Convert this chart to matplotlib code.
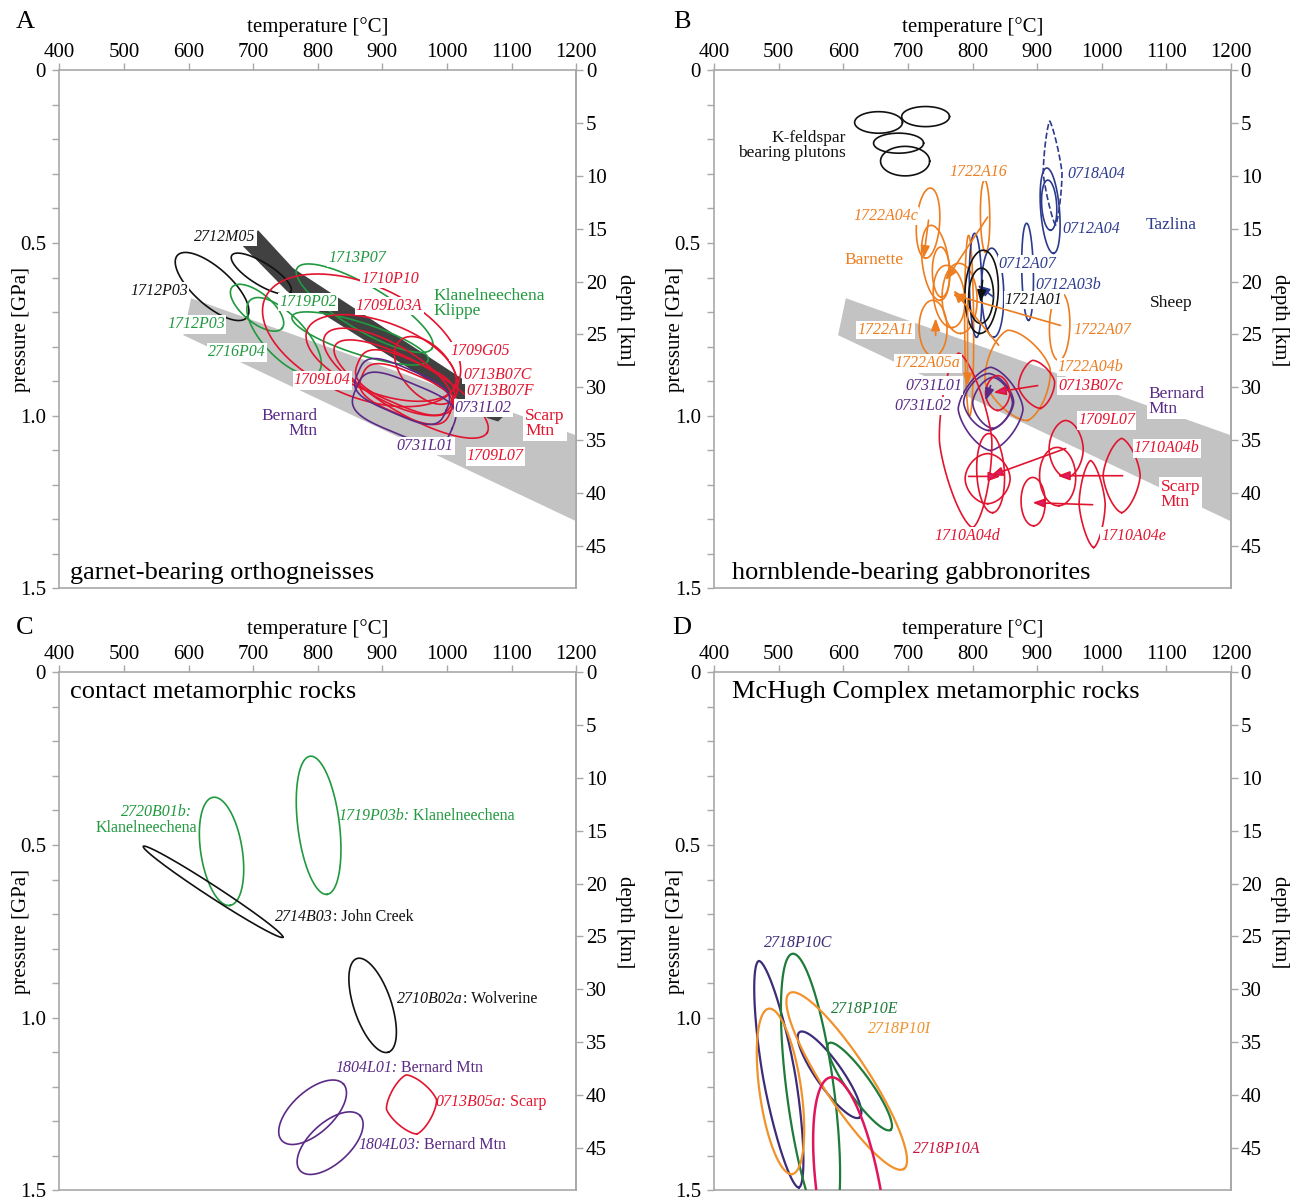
import numpy as np
import matplotlib
matplotlib.use('Agg')
import matplotlib.pyplot as plt
from matplotlib.ticker import MultipleLocator

plt.rcParams['font.family'] = ['Liberation Serif', 'DejaVu Serif']

# ---------------- axes / ticks ----------------
T_TICKS = [400, 500, 600, 700, 800, 900, 1000, 1100, 1200]
P_TICKS = [0, 0.5, 1.0, 1.5]
P_TICK_LABELS = ['0', '0.5', '1.0', '1.5']
DEPTH_TICKS = [0, 5, 10, 15, 20, 25, 30, 35, 40, 45]
KM_PER_GPA = 32.7

# ---------------- colours ----------------
GRAY = '#a8a8a8'
BAND_LIGHT = '#c3c3c3'
BAND_DARK = '#414141'
BLACK = '#111111'
GREEN = '#21993f'
RED = '#e2142f'
PURPLE = '#5b2a86'
ORANGE = '#ee7d1f'
BLUE = '#2d3b8e'
MAGENTA = '#dc1c6e'
D_INDIGO = '#3e2c79'
D_GREEN = '#1e7b3a'
D_ORANGE = '#f1922b'
D_CRIMSON = '#e0155c'

# ---------------- shared bands (T degC, P GPa) ----------------
BAND_LIGHT_T = [604, 1200, 1200, 592]
BAND_LIGHT_P = [0.660, 1.057, 1.306, 0.767]
BAND_DARK_T = [707.6, 761.8, 1051.2, 1082.2, 1091.5, 1079.1, 1063.6, 752.5, 682.4]
BAND_DARK_P = [0.463, 0.573, 0.927, 0.968, 0.994, 1.017, 1.008, 0.640, 0.506]

# contour = (T1, P1, T2, P2, width ratio, squareness exponent)
# ---------------- Panel A ----------------
A_BLACK = [(582.7, 0.536, 690.1, 0.716, 0.40, 2),
           (666.9, 0.536, 758.2, 0.642, 0.32, 2)]
A_GREEN = [(667.3, 0.628, 744.7, 0.747, 0.45, 2),
           (695.2, 0.666, 800.5, 0.875, 0.42, 2),
           (768.0, 0.573, 976.9, 0.805, 0.28, 2),
           (760.2, 0.713, 970.7, 0.840, 0.22, 2)]
A_RED = [(718.4, 0.660, 1017.2, 0.904, 0.53, 2),
         (783.4, 0.753, 1012.5, 0.913, 0.45, 2),
         (811.3, 0.768, 1007.9, 0.979, 0.38, 2),
         (927.4, 0.782, 1007.9, 0.956, 0.60, 2),
         (862.4, 0.846, 1007.9, 0.962, 0.45, 3),
         (868.6, 0.884, 1004.8, 0.991, 0.45, 3),
         (826.8, 0.797, 1062.1, 1.049, 0.30, 2)]
A_PURPLE = [(862.4, 0.875, 998.6, 0.985, 0.48, 3.5),
            (859.3, 0.921, 1007.9, 1.037, 0.50, 3.5)]
A_LABELS = [("2712M05", 656.5, 0.483, BLACK, True, True, 'center'),
            ("1712P03", 554.3, 0.640, BLACK, True, True, 'center'),
            ("1713P07", 860.8, 0.544, GREEN, True, True, 'center'),
            ("1710P10", 912.0, 0.605, RED, True, True, 'center'),
            ("1719P02", 785.0, 0.672, GREEN, True, True, 'center'),
            ("1709L03A", 910.4, 0.683, RED, True, True, 'center'),
            ("1712P03", 611.6, 0.736, GREEN, True, True, 'center'),
            ("2716P04", 675.1, 0.817, GREEN, True, True, 'center'),
            ("1709G05", 1051.2, 0.814, RED, True, True, 'center'),
            ("0713B07C", 1077.6, 0.881, RED, True, True, 'center'),
            ("0713B07F", 1082.2, 0.930, RED, True, True, 'center'),
            ("1709L04", 806.7, 0.898, RED, True, True, 'center'),
            ("0731L02", 1055.9, 0.979, PURPLE, True, True, 'center'),
            ("0731L01", 966.1, 1.089, PURPLE, True, True, 'center'),
            ("1709L07", 1074.5, 1.118, RED, True, True, 'center')]
A_REGIONS = [("Klanelneechena\nKlippe", 978.5, 0.675, GREEN, False, 'left'),
             ("Scarp\nMtn", 1120.9, 1.023, RED, True, 'left'),
             ("Bernard\nMtn", 798.9, 1.023, PURPLE, False, 'right')]

# ---------------- Panel B ----------------
B_KSPAR = [(617.6, 0.151, 691.6, 0.151, 0.45, 2),
           (690.4, 0.134, 764.4, 0.134, 0.42, 2),
           (646.9, 0.211, 724.3, 0.211, 0.40, 2),
           (657.7, 0.263, 733.7, 0.263, 0.60, 2)]
B_ORANGE = [(735.1, 0.341, 727.4, 0.544, 0.33, 2),
            (735.1, 0.449, 750.6, 0.666, 0.35, 2),
            (818.7, 0.318, 820.3, 0.527, 0.13, 2),
            (750.6, 0.512, 752.2, 0.657, 0.35, 2),
            (758.4, 0.565, 769.2, 0.745, 0.50, 2),
            (778.5, 0.559, 781.6, 0.762, 0.50, 2),
            (738.2, 0.666, 739.8, 0.828, 0.50, 2),
            (794.0, 0.478, 795.6, 1.000, 0.05, 2),
            (936.4, 0.643, 933.3, 0.840, 0.30, 2),
            (854.3, 0.753, 885.3, 1.014, 0.72, 1.5)]
B_ORANGE_ARROWS = [(732.0, 0.434, 724.3, 0.544),
                   (823.4, 0.425, 758.4, 0.608),
                   (742.9, 0.768, 742.9, 0.718),
                   (792.4, 0.666, 792.4, 0.913),
                   (936.4, 0.739, 769.2, 0.649),
                   (840.4, 0.796, 770.7, 0.637)]
B_BLUE = [(914.7, 0.283, 925.5, 0.530, 0.22, 2),
          (916.3, 0.318, 921.0, 0.463, 0.30, 2),
          (883.7, 0.443, 886.8, 0.724, 0.12, 2),
          (803.3, 0.472, 806.3, 0.773, 0.12, 2),
          (829.6, 0.515, 832.7, 0.773, 0.25, 2)]
B_BLUE_DASHED = [(919.4, 0.147, 928.6, 0.449, 0.18, 1.3)]
B_BLUE_ARROWS = [(832.7, 0.657, 807.9, 0.622)]
B_BLACK = [(817.2, 0.521, 811.0, 0.762, 0.40, 2),
           (814.1, 0.573, 812.5, 0.733, 0.45, 2)]
B_BLACK_ARROWS = [(815.6, 0.608, 812.5, 0.672)]
B_PURPLE = [(828.0, 0.860, 828.0, 1.101, 0.78, 1.5),
            (825.0, 0.878, 825.0, 1.043, 0.88, 1.6),
            (831.1, 0.889, 831.1, 1.037, 0.78, 1.6)]
B_PURPLE_ARROWS = [(828.0, 0.913, 820.3, 0.956)]
B_RED = [(893.0, 0.840, 905.4, 0.979, 0.75, 1.5),
         (838.9, 0.884, 838.9, 0.985, 0.70, 1.8),
         (778.5, 0.819, 800.2, 1.324, 0.30, 1.5),
         (823.4, 1.110, 823.4, 1.255, 0.90, 1.8),
         (825.0, 1.052, 831.1, 1.281, 0.35, 2),
         (944.1, 1.014, 945.7, 1.179, 0.60, 1.8),
         (1030.8, 1.066, 1030.8, 1.281, 0.50, 1.5),
         (930.2, 1.092, 933.3, 1.261, 0.62, 2),
         (893.0, 1.179, 894.6, 1.319, 0.50, 2),
         (982.8, 1.130, 987.5, 1.382, 0.30, 1.5)]
B_RED_ARROWS = [(900.8, 0.913, 832.7, 0.933),
                (944.1, 1.095, 828.0, 1.174),
                (794.0, 1.176, 843.5, 1.176),
                (1032.3, 1.174, 931.7, 1.174),
                (985.9, 1.258, 893.0, 1.252)]
B_LABELS = [("1722A16", 809.4, 0.295, ORANGE, True, True, 'center'),
            ("0718A04", 992.1, 0.301, BLUE, True, True, 'center'),
            ("1722A04c", 665.5, 0.422, ORANGE, True, True, 'center'),
            ("0712A04", 984.4, 0.460, BLUE, True, True, 'center'),
            ("0712A07", 885.3, 0.562, BLUE, True, True, 'center'),
            ("0712A03b", 948.7, 0.622, BLUE, True, True, 'center'),
            ("1721A01", 894.6, 0.666, BLACK, True, True, 'center'),
            ("1722A11", 665.5, 0.753, ORANGE, True, True, 'center'),
            ("1722A07", 1001.4, 0.753, ORANGE, True, True, 'center'),
            ("1722A05a", 730.5, 0.849, ORANGE, True, True, 'center'),
            ("1722A04b", 982.8, 0.860, ORANGE, True, True, 'center'),
            ("0731L01", 739.8, 0.913, PURPLE, True, True, 'center'),
            ("0713B07c", 982.8, 0.915, RED, True, True, 'center'),
            ("0731L02", 722.8, 0.971, PURPLE, True, True, 'center'),
            ("1709L07", 1007.6, 1.014, RED, True, True, 'center'),
            ("1710A04b", 1100.5, 1.095, RED, True, True, 'center'),
            ("1710A04d", 792.4, 1.348, RED, True, True, 'center'),
            ("1710A04e", 1049.4, 1.348, RED, True, True, 'center')]
B_REGIONS = [("K-feldspar\nbearing plutons", 603.6, 0.217, BLACK, False, 'right'),
             ("Tazlina", 1108.2, 0.449, BLUE, False, 'center'),
             ("Barnette", 646.9, 0.550, ORANGE, False, 'center'),
             ("Sheep", 1106.7, 0.675, BLACK, False, 'center'),
             ("Bernard\nMtn", 1072.6, 0.959, PURPLE, True, 'left'),
             ("Scarp\nMtn", 1091.2, 1.229, RED, True, 'left')]

# ---------------- Panel C ----------------
C_GREEN = [(637.9, 0.362, 664.2, 0.675, 0.38, 2),
           (788.1, 0.243, 814.4, 0.643, 0.30, 2)]
C_BLACK = [(530.0, 0.504, 745.8, 0.767, 0.07, 2),
           (860.4, 0.829, 909.3, 1.100, 0.38, 2)]
C_PURPLE = [(744.3, 1.356, 839.6, 1.192, 0.50, 2),
            (772.6, 1.443, 865.5, 1.284, 0.50, 2)]
C_RED = [(936.7, 1.166, 953.3, 1.337, 0.85, 1.4)]
# (T, P, italic sample, upright locality, colour)
C_LABELS = [(831.4, 0.417, "1719P03b:", " Klanelneechena", GREEN),
            (733.9, 0.709, "2714B03", ": John Creek", BLACK),
            (922.3, 0.947, "2710B02a", ": Wolverine", BLACK),
            (826.8, 1.147, "1804L01:", " Bernard Mtn", PURPLE),
            (981.6, 1.243, "0713B05a:", " Scarp", RED),
            (862.4, 1.368, "1804L03:", " Bernard Mtn", PURPLE)]
C_STACKED = [(605.4, 0.405, "2720B01b:", True, GREEN),
             (613.2, 0.452, "Klanelneechena", False, GREEN)]

# ---------------- Panel D ----------------
D_INDIGO_C = [(469.3, 0.836, 531.3, 1.492, 0.14, 1.8),
              (532.4, 1.042, 625.2, 1.289, 0.25, 2)]
D_GREEN_C = [(521.5, 0.815, 577.2, 1.617, 0.17, 2),
             (577.7, 1.074, 673.2, 1.325, 0.22, 2)]
D_ORANGE_C = [(484.8, 0.974, 521.0, 1.453, 0.25, 2),
              (516.9, 0.929, 693.8, 1.438, 0.22, 2)]
D_CRIMSON_C = [(580.3, 1.173, 642.3, 1.907, 0.25, 2)]
D_LABELS = [("2718P10C", 530.8, 0.785, D_INDIGO, True, False, 'center'),
            ("2718P10E", 633.0, 0.974, D_GREEN, True, False, 'center'),
            ("2718P10I", 687.2, 1.032, D_ORANGE, True, False, 'center'),
            ("2718P10A", 759.9, 1.380, '#cc1440', True, False, 'center')]

TITLES = ["garnet-bearing orthogneisses", "hornblende-bearing gabbronorites",
          "contact metamorphic rocks", "McHugh Complex metamorphic rocks"]
PANEL_LETTERS = ["A", "B", "C", "D"]

TICK_FS = 15
SAMPLE_FS = 11.5
REGION_FS = 12.5
TITLE_FS = 19


def shape_path(T1, P1, T2, P2, ratio, n):
    u1, v1 = (T1 - 400) / 800, P1 / 1.5
    u2, v2 = (T2 - 400) / 800, P2 / 1.5
    cu, cv = (u1 + u2) / 2, (v1 + v2) / 2
    a = np.hypot(u2 - u1, v2 - v1) / 2
    b = a * ratio
    ang = np.arctan2(v2 - v1, u2 - u1)
    t = np.linspace(0, 2 * np.pi, 400)
    c, s = np.cos(t), np.sin(t)
    x = a * np.sign(c) * np.abs(c) ** (2 / n)
    y = b * np.sign(s) * np.abs(s) ** (2 / n)
    u = cu + x * np.cos(ang) - y * np.sin(ang)
    v = cv + x * np.sin(ang) + y * np.cos(ang)
    return 400 + 800 * u, 1.5 * v


def draw_shapes(ax, shapes, color, lw=1.2, ls='-'):
    for sh in shapes:
        T, P = shape_path(*sh)
        ax.plot(T, P, color=color, lw=lw, ls=ls, zorder=3, solid_joinstyle='round')


def draw_arrows(ax, arrows, line_color, head_color=None, lw=1.2):
    head_color = head_color or line_color
    for T1, P1, T2, P2 in arrows:
        ax.annotate('', xy=(T2, P2), xytext=(T1, P1),
                    arrowprops=dict(arrowstyle='-|>,head_length=0.8,head_width=0.3',
                                    edgecolor=line_color, facecolor=head_color, lw=lw,
                                    shrinkA=0, shrinkB=0, mutation_scale=9),
                    zorder=4)


def put_labels(ax, labels, fs=SAMPLE_FS):
    for txt, T, P, col, ital, box, ha in labels:
        ax.text(T, P, txt, color=col, fontsize=fs, style='italic' if ital else 'normal',
                ha=ha, va='center', zorder=6,
                bbox=dict(fc='white', ec='none', pad=0.8) if box else None)


def put_regions(ax, regions, fs=REGION_FS):
    for txt, T, P, col, box, ha in regions:
        ax.text(T, P, txt, color=col, fontsize=fs, ha=ha, va='center', linespacing=0.95,
                multialignment=ha if ha != 'center' else 'center', zorder=6,
                bbox=dict(fc='white', ec='none', pad=1.5) if box else None)


def setup(ax):
    ax.set_xlim(400, 1200)
    ax.set_ylim(1.5, 0)
    ax.xaxis.set_ticks_position('top')
    ax.set_xticks(T_TICKS)
    ax.set_xticklabels([str(t) for t in T_TICKS])
    ax.set_yticks(P_TICKS)
    ax.set_yticklabels(P_TICK_LABELS)
    ax.yaxis.set_minor_locator(MultipleLocator(0.1))
    ax.tick_params(axis='x', which='major', direction='out', length=5, width=1, color=GRAY,
                   pad=1.0, labelsize=TICK_FS, top=True, bottom=False, labeltop=True,
                   labelbottom=False)
    ax.tick_params(axis='y', which='both', direction='out', length=5, width=1, color=GRAY,
                   pad=4.5, labelsize=TICK_FS, left=True, right=False)
    for sp in ax.spines.values():
        sp.set_color(GRAY)
        sp.set_linewidth(1.2)
    sec = ax.secondary_yaxis('right', functions=(lambda p: p * KM_PER_GPA,
                                                 lambda d: d / KM_PER_GPA))
    sec.set_yticks(DEPTH_TICKS)
    sec.set_yticklabels([str(d) for d in DEPTH_TICKS])
    sec.tick_params(direction='out', length=5, width=1, color=GRAY, pad=2, labelsize=TICK_FS)
    for sp in sec.spines.values():
        sp.set_color(GRAY)
        sp.set_linewidth(1.2)
    ax.text(0.5, 1.083, "temperature [°C]", transform=ax.transAxes, ha='center',
            va='center', fontsize=TICK_FS)
    ax.text(-0.074, 0.5, "pressure [GPa]", transform=ax.transAxes, rotation=90,
            ha='center', va='center', fontsize=TICK_FS)
    ax.text(1.094, 0.518, "depth [km]", transform=ax.transAxes, rotation=270,
            ha='center', va='center', fontsize=TICK_FS)


fig = plt.figure(figsize=(12.92, 11.97), dpi=100)
W, H = 1292, 1197
positions = [(59.3, 70.3), (714.0, 70.3), (59.3, 672.3), (714.0, 672.3)]
axes = []
for (x0, y0) in positions:
    ax = fig.add_axes([x0 / W, 1 - (y0 + 518) / H, 517 / W, 518 / H])
    setup(ax)
    axes.append(ax)
axA, axB, axC, axD = axes

letter_pos = [(25, 22), (682, 22), (25, 628), (682, 628)]
for L, (x, y) in zip(PANEL_LETTERS, letter_pos):
    fig.text(x / W, 1 - y / H, L, fontsize=19, ha='center', va='center')

# ---- Panel A ----
axA.fill(BAND_LIGHT_T, BAND_LIGHT_P, color=BAND_LIGHT, lw=0, zorder=1)
axA.fill(BAND_DARK_T, BAND_DARK_P, color=BAND_DARK, lw=0, zorder=2)
draw_shapes(axA, A_BLACK, BLACK)
draw_shapes(axA, A_GREEN, GREEN)
draw_shapes(axA, A_RED, RED)
draw_shapes(axA, A_PURPLE, PURPLE)
put_labels(axA, A_LABELS)
put_regions(axA, A_REGIONS)
axA.text(416.6, 1.455, TITLES[0], fontsize=TITLE_FS, ha='left', va='center')

# ---- Panel B ----
axB.fill(BAND_LIGHT_T, BAND_LIGHT_P, color=BAND_LIGHT, lw=0, zorder=1)
draw_shapes(axB, B_KSPAR, BLACK)
draw_shapes(axB, B_ORANGE, ORANGE)
draw_arrows(axB, B_ORANGE_ARROWS, ORANGE)
draw_shapes(axB, B_BLUE, BLUE)
draw_shapes(axB, B_BLUE_DASHED, BLUE, ls='--')
draw_arrows(axB, B_BLUE_ARROWS, BLUE)
draw_shapes(axB, B_BLACK, BLACK)
draw_arrows(axB, B_BLACK_ARROWS, BLACK)
draw_shapes(axB, B_PURPLE, PURPLE)
draw_arrows(axB, B_PURPLE_ARROWS, PURPLE)
draw_shapes(axB, B_RED, RED)
draw_arrows(axB, B_RED_ARROWS, RED, MAGENTA)
put_labels(axB, B_LABELS)
put_regions(axB, B_REGIONS)
axB.text(427.1, 1.455, TITLES[1], fontsize=TITLE_FS, ha='left', va='center')

# ---- Panel C ----
draw_shapes(axC, C_GREEN, GREEN)
draw_shapes(axC, C_BLACK, BLACK)
draw_shapes(axC, C_PURPLE, PURPLE)
draw_shapes(axC, C_RED, RED)
for T, P, ital, up, col in C_LABELS:
    t1 = axC.text(T, P, ital, style='italic', color=col, fontsize=SAMPLE_FS,
                  ha='left', va='center', zorder=6)
    axC.annotate(up, xy=(1, 0), xycoords=t1, ha='left', va='bottom', color=col,
                 fontsize=SAMPLE_FS, zorder=6)
for T, P, txt, ital, col in C_STACKED:
    axC.text(T, P, txt, style='italic' if ital else 'normal', color=col, fontsize=SAMPLE_FS,
             ha='right', va='center', zorder=6)
axC.text(416.6, 0.057, TITLES[2], fontsize=TITLE_FS, ha='left', va='center')

# ---- Panel D ----
draw_shapes(axD, D_INDIGO_C, D_INDIGO, lw=1.6)
draw_shapes(axD, D_GREEN_C, D_GREEN, lw=1.6)
draw_shapes(axD, D_ORANGE_C, D_ORANGE, lw=1.6)
draw_shapes(axD, D_CRIMSON_C, D_CRIMSON, lw=1.8)
put_labels(axD, D_LABELS)
axD.text(427.1, 0.057, TITLES[3], fontsize=TITLE_FS, ha='left', va='center')

fig.savefig('out.png', dpi=100)
